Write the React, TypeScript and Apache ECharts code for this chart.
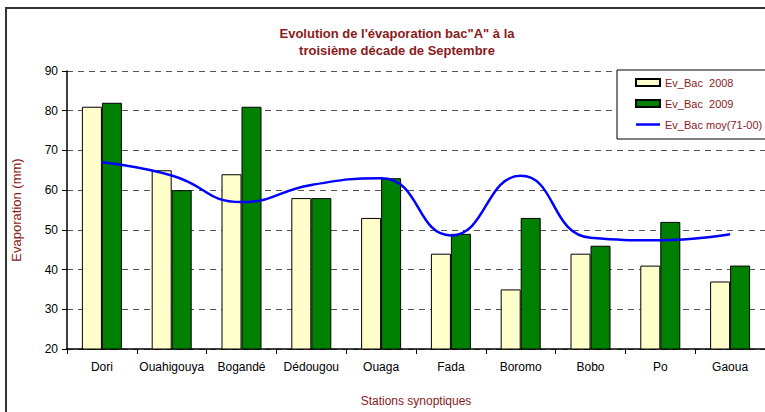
import React, { useEffect, useRef } from "react";
import * as echarts from "echarts";

const stations = ["Dori", "Ouahigouya", "Bogandé", "Dédougou", "Ouaga", "Fada", "Boromo", "Bobo", "Po", "Gaoua"];
const bac2008 = [81, 65, 64, 58, 53, 44, 35, 44, 41, 37];
const bac2009 = [82, 60, 81, 58, 63, 49, 53, 46, 52, 41];
const bacMoy = [67, 63.7, 57, 61.3, 63, 48.6, 63.6, 48, 47.4, 48.9];
const yTicks = { min: 20, max: 90, interval: 10 };

const RED = "#8B1A1A";
const FONT = "'Liberation Sans', Arial, sans-serif";

export default function App() {
  const ref = useRef<HTMLDivElement>(null);
  useEffect(() => {
    if (!ref.current) return;
    const chart = echarts.init(ref.current, null, { renderer: "svg" });
    chart.setOption({
      animation: false,
      backgroundColor: "#ffffff",
      title: {
        text: "Evolution de l'évaporation bac\"A\" à la\ntroisième décade de Septembre",
        left: 392,
        textAlign: "center",
        top: 20,
        textStyle: { color: RED, fontSize: 13, fontWeight: "bold", fontFamily: FONT, lineHeight: 17 },
      },
      graphic: [
        {
          type: "rect",
          shape: { x: 6, y: 8, width: 800, height: 450 },
          style: { fill: "none", stroke: "#333333", lineWidth: 2 },
          silent: true,
          z: 10,
        },
      ],
      legend: {
        orient: "vertical",
        left: 617,
        top: 70,
        width: 160,
        padding: [7, 40, 9, 18],
        itemGap: 10,
        itemWidth: 24,
        itemHeight: 7,
        backgroundColor: "#ffffff",
        borderColor: "#000000",
        borderWidth: 1,
        textStyle: { color: RED, fontSize: 11, fontFamily: FONT },
        data: [
          { name: "Ev_Bac  2008", icon: "rect" },
          { name: "Ev_Bac  2009", icon: "rect" },
          { name: "Ev_Bac moy(71-00)", icon: "path://M0 0H24V2.5H0Z" },
        ],
        z: 5,
      },
      grid: { left: 67, right: -2, top: 71, bottom: 59 },
      xAxis: {
        type: "category",
        data: stations,
        name: "Stations synoptiques",
        nameLocation: "middle",
        nameGap: 46,
        nameTextStyle: { color: RED, fontSize: 12, fontFamily: FONT },
        axisLine: { lineStyle: { color: "#000000", width: 1.5 } },
        axisTick: { show: true, length: 5, lineStyle: { color: "#000000" } },
        axisLabel: { color: "#000000", fontSize: 12, fontFamily: FONT, margin: 12, interval: 0 },
        boundaryGap: true,
      },
      yAxis: {
        type: "value",
        min: yTicks.min,
        max: yTicks.max,
        interval: yTicks.interval,
        name: "Evaporation (mm)",
        nameLocation: "middle",
        nameGap: 44,
        nameTextStyle: { color: RED, fontSize: 13, fontFamily: FONT },
        axisLine: { show: true, lineStyle: { color: "#000000", width: 1.5 } },
        axisTick: { show: true, length: 5, inside: false, lineStyle: { color: "#000000" } },
        axisLabel: { color: "#000000", fontSize: 12, fontFamily: FONT, margin: 9 },
        splitLine: { show: true, lineStyle: { color: "#555555", type: [6, 5], width: 1 } },
      },
      series: [
        {
          name: "Ev_Bac  2008",
          type: "bar",
          data: bac2008,
          barWidth: 20,
          barGap: "0%",
          itemStyle: { color: "#FFFFCC", borderColor: "#000000", borderWidth: 1 },
        },
        {
          name: "Ev_Bac  2009",
          type: "bar",
          data: bac2009,
          barWidth: 20,
          barGap: "0%",
          itemStyle: { color: "#008000", borderColor: "#000000", borderWidth: 1 },
        },
        {
          name: "Ev_Bac moy(71-00)",
          type: "line",
          data: bacMoy,
          smooth: 0.5,
          symbol: "none",
          lineStyle: { color: "#0000FF", width: 2.5 },
          itemStyle: { color: "#0000FF" },
          z: 3,
        },
      ],
    });
    return () => chart.dispose();
  }, []);
  return (
    <div
      ref={ref}
      style={{ position: "fixed", left: 0, top: 0, width: 765, height: 412, background: "#fff" }}
    />
  );
}
